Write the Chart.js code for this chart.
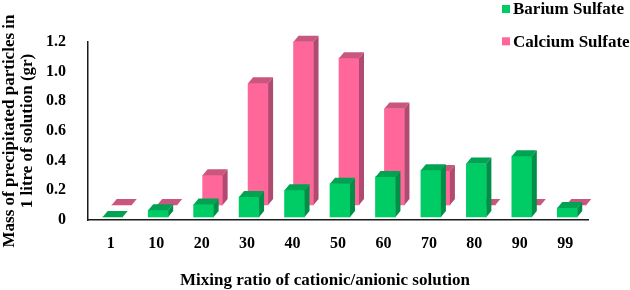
<!DOCTYPE html>
<html>
<head>
<meta charset="utf-8">
<script src="https://cdn.jsdelivr.net/npm/chart.js@4.4.0/dist/chart.umd.min.js"></script>
<style>
    html, body { margin: 0; padding: 0; background: #fff; }
</style>
</head>
<body>
<canvas id="precipChart" width="630" height="290"></canvas>
<script>
// mixing ratios on the x axis
const ratios = ["1", "10", "20", "30", "40", "50", "60", "70", "80", "90", "99"];
// mass of precipitate (gr)
const bariumSulfate = [0, 0.045, 0.085, 0.135, 0.18, 0.225, 0.27, 0.315, 0.36, 0.41, 0.06];
const calciumSulfate = [0, 0, 0.2, 0.82, 1.1, 0.99, 0.65, 0.23, 0, 0, 0];
const yTicks = [0, 0.2, 0.4, 0.6, 0.8, 1, 1.2];
const xTitle = "Mixing ratio of cationic/anionic solution";

const serif = "'Liberation Serif', 'Times New Roman', serif";

// fake 3D: each series is pushed back a bit and gets a top and a side face
const depth = { dx: 5, dy: -6 };
const shifts = [{ x: 2, y: -3 }, { x: 11, y: -15 }];
const faces = [
    { top: "#00a352", side: "#008f47" },
    { top: "#c9567f", side: "#b04a70" }
];

const bar3d = {
    id: "bar3d",
    beforeDatasetDraw(chart, args) {
        const s = shifts[args.index];
        chart.ctx.save();
        chart.ctx.translate(s.x, s.y);
    },
    afterDatasetDraw(chart, args) {
        const ctx = chart.ctx;
        const c = faces[args.index];
        for (let bar of args.meta.data) {
            const p = bar.getProps(["x", "y", "base", "width"], true);
            const l = p.x - p.width / 2;
            const r = p.x + p.width / 2;
            //top face
            ctx.fillStyle = c.top;
            ctx.beginPath();
            ctx.moveTo(l, p.y);
            ctx.lineTo(r, p.y);
            ctx.lineTo(r + depth.dx, p.y + depth.dy);
            ctx.lineTo(l + depth.dx, p.y + depth.dy);
            ctx.closePath();
            ctx.fill();
            //side face
            if (p.base - p.y > 0.5) {
                ctx.fillStyle = c.side;
                ctx.beginPath();
                ctx.moveTo(r, p.y);
                ctx.lineTo(r + depth.dx, p.y + depth.dy);
                ctx.lineTo(r + depth.dx, p.base + depth.dy);
                ctx.lineTo(r, p.base);
                ctx.closePath();
                ctx.fill();
            }
        }
        ctx.restore();
    }
};

// legend in the top right corner (two rows) and the x axis title,
// which sits a little left of the plot centre in the original
const extraText = {
    id: "extraText",
    afterDraw(chart) {
        const ctx = chart.ctx;
        ctx.save();
        ctx.font = "bold 17px " + serif;
        ctx.textBaseline = "alphabetic";
        ctx.textAlign = "left";
        chart.data.datasets.forEach((ds, i) => {
            ctx.fillStyle = ds.backgroundColor;
            ctx.fillRect(502, 5 + 32.3 * i, 8, 8);
            ctx.fillStyle = "#000";
            ctx.fillText(ds.label, 513, 14 + 32.5 * i);
        });
        ctx.textAlign = "center";
        ctx.fillText(xTitle, 325, 284.5);
        ctx.restore();
    }
};

new Chart(document.querySelector("#precipChart"), {
    type: "bar",
    data: {
        labels: ratios,
        datasets: [
            {
                label: "Barium Sulfate",
                data: bariumSulfate,
                backgroundColor: "#00cc66",
                grouped: false,
                barThickness: 20,
                clip: false
            },
            {
                label: "Calcium Sulfate",
                data: calciumSulfate,
                backgroundColor: "#ff6699",
                grouped: false,
                barThickness: 20,
                clip: false
            }
        ]
    },
    options: {
        responsive: false,
        animation: false,
        layout: { padding: { top: 42, right: 42, left: 0, bottom: 0 } },
        plugins: {
            legend: { display: false },
            tooltip: { enabled: false }
        },
        scales: {
            x: {
                grid: { display: false },
                border: { display: true, color: "#1a1a1a", width: 1.5 },
                ticks: { color: "#000", padding: 6, font: { family: serif, size: 16, weight: "bold" } },
                afterFit(scale) { scale.height = 70; }
            },
            y: {
                min: 0,
                max: 1.2,
                grid: { display: false },
                border: { display: true, color: "#1a1a1a", width: 1.5 },
                afterBuildTicks(scale) { scale.ticks = yTicks.map(v => ({ value: v })); },
                ticks: { color: "#000", padding: 14, font: { family: serif, size: 16, weight: "bold" } },
                title: {
                    display: true,
                    text: ["Mass of precipitated particles in", "1 litre of solution (gr)"],
                    color: "#000",
                    font: { family: serif, size: 17, weight: "bold", lineHeight: 1.1 },
                    padding: { top: 0, bottom: 0 }
                },
                afterFit(scale) { scale.width = 88; }
            }
        }
    },
    plugins: [bar3d, extraText]
});
</script>
</body>
</html>
